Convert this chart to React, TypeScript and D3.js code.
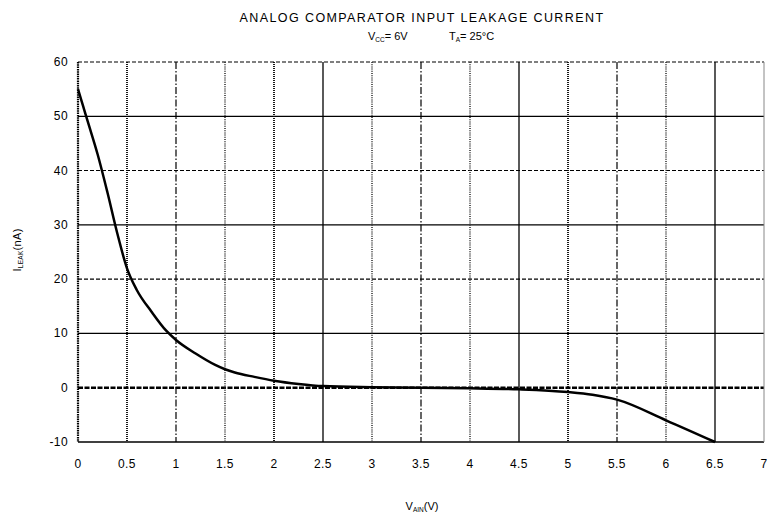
import React from "react";
import * as d3 from "d3";

const xTicks = [0, 0.5, 1, 1.5, 2, 2.5, 3, 3.5, 4, 4.5, 5, 5.5, 6, 6.5, 7];
const xTickLabels = ["0", "0.5", "1", "1.5", "2", "2.5", "3", "3.5", "4", "4.5", "5", "5.5", "6", "6.5", "7"];
const yTicks = [-10, 0, 10, 20, 30, 40, 50, 60];
const vain = [0, 0.05, 0.1, 0.2, 0.3, 0.4, 0.5, 0.6, 0.75, 0.9, 1.0, 1.2, 1.4, 1.5, 1.6, 1.8, 2.0, 2.25, 2.5, 3.0, 3.5, 4.0, 4.5, 5.0, 5.25, 5.5, 6.0, 6.5];
const ileak = [55, 52, 49, 43, 36, 28.5, 22, 18, 14, 10.5, 8.8, 6.3, 4.2, 3.4, 2.8, 2.0, 1.3, 0.7, 0.3, 0.1, 0.0, -0.1, -0.3, -0.8, -1.3, -2.2, -6.0, -10];

const vStyles = ["axis", "dense", "dashdot", "dotted", "dense", "solid", "dotted", "dashdot", "dotted", "solid", "dense", "dashdot", "dotted", "solid", "edge"];
const hStyles: Record<string, string> = { "-10": "solid", "0": "zero", "10": "solid", "20": "dashed", "30": "solid", "40": "dashed", "50": "solid", "60": "dashed" };

const styleProps = (s: string) => {
  switch (s) {
    case "axis": return { stroke: "#000", strokeWidth: 2.2, strokeDasharray: "1.5,0.8" };
    case "dense": return { stroke: "#000", strokeWidth: 1.8, strokeDasharray: "1,1" };
    case "dashdot": return { stroke: "#000", strokeWidth: 1.2, strokeDasharray: "7,2,1.5,2" };
    case "dotted": return { stroke: "#333", strokeWidth: 1.6, strokeDasharray: "1,1.2" };
    case "solid": return { stroke: "#000", strokeWidth: 1.3 };
    case "edge": return { stroke: "#888", strokeWidth: 1 };
    case "dashed": return { stroke: "#000", strokeWidth: 1.1, strokeDasharray: "4,2" };
    case "zero": return { stroke: "#000", strokeWidth: 2.4, strokeDasharray: "5,1.5" };
    default: return { stroke: "#000" };
  }
};

export default function App() {
  const W = 767, H = 523;
  const x = d3.scaleLinear().domain([0, 7]).range([78, 764]);
  const y = d3.scaleLinear().domain([-10, 60]).range([442, 62]);
  const line = d3.line<number>().x((_, i) => x(vain[i])).y((d) => y(d)).curve(d3.curveMonotoneX);
  const font = "Arial, 'Liberation Sans', sans-serif";
  return (
    <svg width={W} height={H} style={{ position: "absolute", left: 0, top: 0, background: "#fff" }} fontFamily={font}>
      <rect x={0} y={0} width={W} height={H} fill="#fff" />
      <text x={422} y={22} textAnchor="middle" fontSize={12.5} letterSpacing={1.4} fill="#000">ANALOG COMPARATOR INPUT LEAKAGE CURRENT</text>
      <text x={368} y={40} fontSize={11} fill="#000">
        V<tspan fontSize={6.5} dy={2}>CC</tspan><tspan dy={-2}>= 6V</tspan>
      </text>
      <text x={449} y={40} fontSize={11} fill="#000">
        T<tspan fontSize={6.5} dy={2}>A</tspan><tspan dy={-2}>= 25°C</tspan>
      </text>
      {yTicks.map((t) => (
        <line key={"h" + t} x1={x(0)} x2={x(7)} y1={y(t)} y2={y(t)} {...styleProps(hStyles[String(t)])} />
      ))}
      {xTicks.map((t, i) => (
        <line key={"v" + t} x1={x(t)} x2={x(t)} y1={y(60)} y2={y(-10)} {...styleProps(vStyles[i])} />
      ))}
      <path d={line(ileak) || ""} fill="none" stroke="#000" strokeWidth={2.5} />
      {yTicks.map((t) => (
        <text key={"yl" + t} x={68} y={y(t) + 4} textAnchor="end" fontSize={12} letterSpacing={0.4} fill="#000">{t}</text>
      ))}
      {xTicks.map((t, i) => (
        <text key={"xl" + t} x={x(t)} y={468} textAnchor="middle" fontSize={12} letterSpacing={0.4} fill="#000">{xTickLabels[i]}</text>
      ))}
      <text transform={`translate(21,250) rotate(-90)`} textAnchor="middle" fontSize={11} letterSpacing={0.3} fill="#000">
        I<tspan fontSize={6.5} dy={2}>LEAK</tspan><tspan dy={-2}>(nA)</tspan>
      </text>
      <text x={422} y={510} textAnchor="middle" fontSize={11} fill="#000">
        V<tspan fontSize={6.5} dy={2}>AIN</tspan><tspan dy={-2}>(V)</tspan>
      </text>
    </svg>
  );
}
